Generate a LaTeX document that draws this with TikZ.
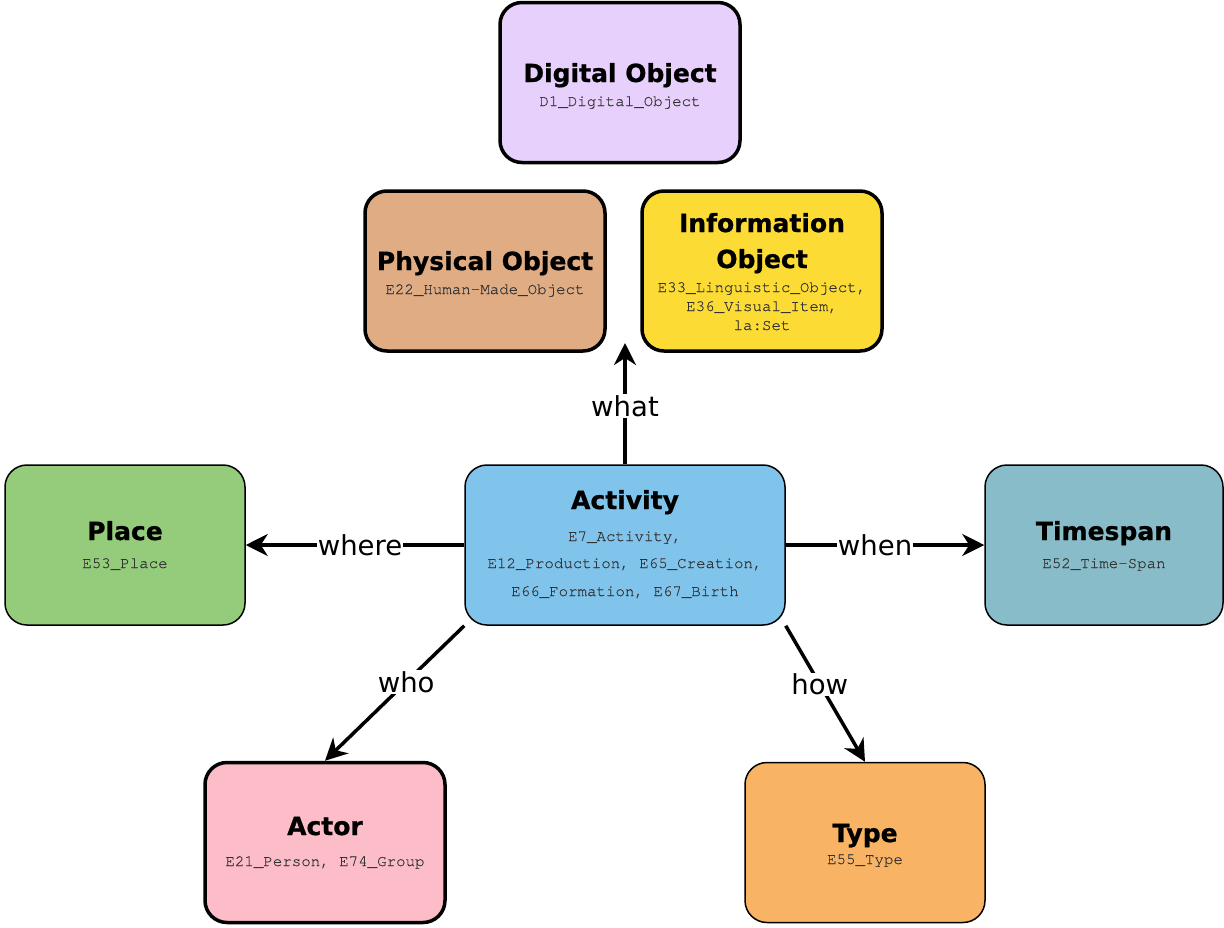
\documentclass[tikz,border=0pt]{standalone}
\usepackage{fontspec}
\setmainfont{DejaVu Sans}
\newfontfamily\monof[FakeBold=0.3]{TeX Gyre Cursor}
\newfontfamily\ttlf[FakeBold=0.8]{DejaVu Sans}
\usetikzlibrary{arrows.meta}
\definecolor{cDig}{HTML}{E8D0FC}
\definecolor{cPhy}{HTML}{E0AC84}
\definecolor{cInf}{HTML}{FCDC34}
\definecolor{cPla}{HTML}{94CC7C}
\definecolor{cAct}{HTML}{80C4EC}
\definecolor{cTim}{HTML}{88BCC8}
\definecolor{cAto}{HTML}{FCBCC8}
\definecolor{cTyp}{HTML}{F8B464}
\definecolor{cMono}{HTML}{333333}
\begin{document}
\begin{tikzpicture}[x=1pt,y=-1pt,
  box/.style={rectangle, rounded corners=22pt, minimum width=240pt, minimum height=160pt, inner sep=0pt, draw=black},
  boxthick/.style={box, line width=3.5pt},
  boxthin/.style={box, line width=1.5pt},
  ttl/.style={font=\ttlf\fontsize{25}{30}\selectfont\bfseries, anchor=base, inner sep=0pt},
  subt/.style={font=\monof\fontsize{15.8}{19}\selectfont, text=cMono, anchor=base, inner sep=0pt},
  lbl/.style={font=\fontsize{27.5}{33}\selectfont, fill=white, inner sep=1pt},
  conn/.style={line width=3.5pt, -{Stealth[length=22pt,width=22pt,inset=7pt]}}
]
\useasboundingbox (0,0) rectangle (1224,927);

% boxes
\node[boxthick, fill=cDig] (dig) at (620,82.5) {};
\node[boxthick, fill=cPhy] (phy) at (485,271) {};
\node[boxthick, fill=cInf] (inf) at (762,271) {};
\node[boxthin, fill=cPla] (pla) at (125,545) {};
\node[boxthin, fill=cAct, minimum width=320pt] (act) at (625,545) {};
\node[boxthin, fill=cTim, minimum width=238pt] (tim) at (1104,545) {};
\node[boxthick, fill=cAto] (ato) at (325,842.5) {};
\node[boxthin, fill=cTyp] (typ) at (865,842.5) {};

% texts
\node[ttl] (digT) at (620,82) {Digital Object};
\node[subt] (digS) at (620,106) {D1\_Digital\_Object};

\node[ttl] (phyT) at (485,270) {Physical Object};
\node[subt] (phyS) at (485,294) {E22\_Human-Made\_Object};

\node[ttl] (infT1) at (762,232) {Information};
\node[ttl] (infT2) at (762,268) {Object};
\node[subt] (infS1) at (762,292) {E33\_Linguistic\_Object,};
\node[subt] (infS2) at (762,311) {E36\_Visual\_Item,};
\node[subt] (infS3) at (762,330) {la:Set};

\node[ttl] (plaT) at (125,540) {Place};
\node[subt] (plaS) at (125,568) {E53\_Place};

\node[ttl] (actT) at (625,509) {Activity};
\node[subt] (actS1) at (625,541) {E7\_Activity,};
\node[subt] (actS2) at (625,568) {E12\_Production, E65\_Creation,};
\node[subt] (actS3) at (625,596) {E66\_Formation, E67\_Birth};

\node[ttl] (timT) at (1104,540) {Timespan};
\node[subt] (timS) at (1104,568) {E52\_Time-Span};

\node[ttl] (atoT) at (325,835) {Actor};
\node[subt] (atoS) at (325,866) {E21\_Person, E74\_Group};

\node[ttl] (typT) at (865,842) {Type};
\node[subt] (typS) at (865,864) {E55\_Type};

% connectors
\coordinate (whatEnd) at (625,343);
\draw[conn] (act.north) -- node[lbl, pos=0.48] (whatL) {what} (whatEnd);
\draw[conn] (act.west) -- node[lbl, pos=0.477] (whereL) {where} (pla.east);
\draw[conn] (act.east) -- node[lbl, pos=0.45] (whenL) {when} (tim.west);
\draw[conn] (act.south west) -- node[lbl, pos=0.417] (whoL) {who} (ato.north);
\draw[conn] (act.south east) -- node[lbl, pos=0.43] (howL) {how} (typ.north);
\end{tikzpicture}
\end{document}
